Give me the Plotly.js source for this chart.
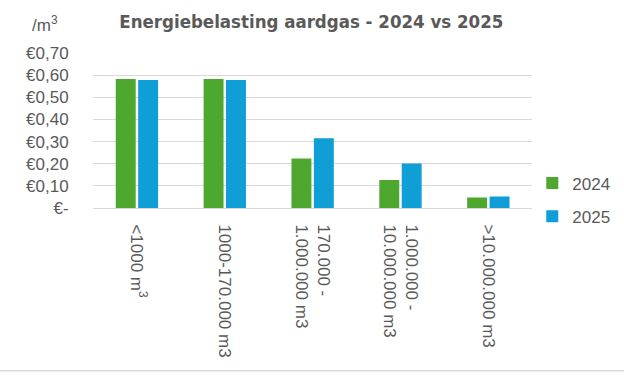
<!DOCTYPE html>
<html>
<head>
<meta charset="utf-8">
<script src="https://cdn.plot.ly/plotly-3.0.1.min.js"></script>
<style>html,body{margin:0;padding:0;background:#fff;}#chart{width:624px;height:385px;}</style>
</head>
<body>
<div id="chart"></div>
<script>
const categories = ["<1000 m<sup>3</sup>", "1000-170.000 m3", "170.000 -<br>1.000.000 m3", "1.000.000 -<br>10.000.000 m3", ">10.000.000 m3"];
const series2024 = [0.583, 0.583, 0.224, 0.127, 0.047];
const series2025 = [0.578, 0.578, 0.315, 0.201, 0.052];
const yTickVals = [0, 0.1, 0.2, 0.3, 0.4, 0.5, 0.6, 0.7];
const yTickText = ["€-", "€0,10", "€0,20", "€0,30", "€0,40", "€0,50", "€0,60", "€0,70"];

const grey = "#595959";
const data = [
  {type: "bar", name: "2024", x: categories, y: series2024, marker: {color: "#4EA72E"}, legendgroup: "a", hoverinfo: "y"},
  {type: "bar", name: "2025", x: categories, y: series2025, marker: {color: "#0F9ED5"}, legendgroup: "b", hoverinfo: "y"}
];
const layout = {
  width: 624, height: 385,
  margin: {l: 93, r: 90, t: 53, b: 177},
  paper_bgcolor: "#fff", plot_bgcolor: "#fff",
  barmode: "group", bargap: 0.49, bargroupgap: 0.11,
  font: {family: "Liberation Sans, Arial, sans-serif", size: 17, color: grey},
  title: {text: "<b>Energiebelasting aardgas - 2024 vs 2025</b>", x: 0.497, xref: "paper", y: 0.945, yanchor: "middle",
          font: {family: "DejaVu Sans Condensed", size: 18.5, color: grey}},
  xaxis: {type: "category", tickangle: 90, showgrid: false, showline: true, linecolor: "#D9D9D9", linewidth: 1,
          ticks: "outside", ticklen: 12, tickcolor: "rgba(0,0,0,0)", zeroline: false,
          tickfont: {size: 17, color: grey}},
  yaxis: {range: [0, 0.7], tickvals: yTickVals, ticktext: yTickText, showgrid: true, gridcolor: "#D9D9D9", gridwidth: 1,
          zeroline: false, showline: false, ticks: "outside", ticklen: 20, tickcolor: "rgba(0,0,0,0)",
          tickfont: {size: 17, color: grey}},
  legend: {xref: "container", yref: "container", x: 0.853, xanchor: "left", y: 0.4805, yanchor: "middle",
           tracegroupgap: 8, font: {size: 17, color: grey}, bgcolor: "rgba(0,0,0,0)"},
  annotations: [
    {text: "/m<sup>3</sup>", xref: "paper", yref: "paper", x: -0.11, y: 1.19, xanchor: "center", yanchor: "middle", showarrow: false,
     font: {size: 17, color: grey}}
  ],
  shapes: [
    {type: "line", xref: "paper", yref: "paper", x0: -0.3, x1: 1.3, y0: -1.05, y1: -1.05, line: {color: "#D9D9D9", width: 1.5}}
  ]
};
Plotly.newPlot("chart", data, layout, {displayModeBar: false, staticPlot: true});
</script>
</body>
</html>
